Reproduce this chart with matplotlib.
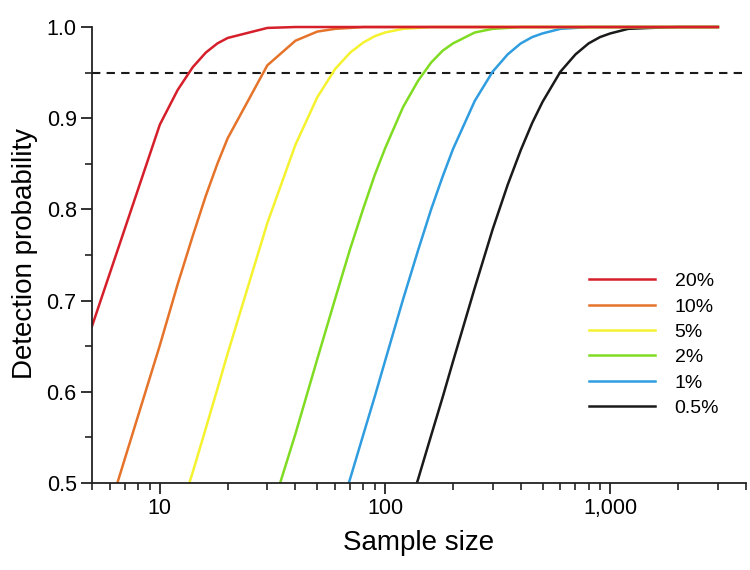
import matplotlib

matplotlib.use("Agg")
import matplotlib.pyplot as plt
from matplotlib.ticker import FixedLocator, FuncFormatter, LogLocator, MultipleLocator, NullFormatter

plt.rcParams["font.family"] = ["Liberation Sans", "DejaVu Sans"]

sample_size = [5, 10, 12, 14, 16, 18, 20, 30, 40, 50, 60, 70, 80, 90, 100,
               120, 140, 160, 180, 200, 250, 300, 350, 400, 450, 500, 600,
               700, 800, 900, 1000, 1200, 1500, 2000, 3000]

prob_20 = [0.672, 0.893, 0.931, 0.956, 0.972, 0.982, 0.988, 0.999, 1.0, 1.0,
           1.0, 1.0, 1.0, 1.0, 1.0, 1.0, 1.0, 1.0, 1.0, 1.0, 1.0, 1.0, 1.0,
           1.0, 1.0, 1.0, 1.0, 1.0, 1.0, 1.0, 1.0, 1.0, 1.0, 1.0, 1.0]
prob_10 = [0.410, 0.651, 0.718, 0.771, 0.815, 0.850, 0.878, 0.958, 0.985, 0.995,
           0.998, 0.999, 1.0, 1.0, 1.0, 1.0, 1.0, 1.0, 1.0, 1.0, 1.0, 1.0, 1.0,
           1.0, 1.0, 1.0, 1.0, 1.0, 1.0, 1.0, 1.0, 1.0, 1.0, 1.0, 1.0]
prob_5 = [0.226, 0.401, 0.460, 0.512, 0.560, 0.603, 0.642, 0.785, 0.871, 0.923,
          0.954, 0.972, 0.983, 0.990, 0.994, 0.998, 0.999, 1.0, 1.0, 1.0, 1.0,
          1.0, 1.0, 1.0, 1.0, 1.0, 1.0, 1.0, 1.0, 1.0, 1.0, 1.0, 1.0, 1.0, 1.0]
prob_2 = [0.096, 0.183, 0.215, 0.246, 0.276, 0.305, 0.332, 0.455, 0.554, 0.636,
          0.702, 0.757, 0.801, 0.838, 0.867, 0.912, 0.941, 0.961, 0.974, 0.982,
          0.994, 0.998, 0.999, 1.0, 1.0, 1.0, 1.0, 1.0, 1.0, 1.0, 1.0, 1.0,
          1.0, 1.0, 1.0]
prob_1 = [0.049, 0.096, 0.114, 0.131, 0.149, 0.165, 0.182, 0.260, 0.331, 0.395,
          0.453, 0.505, 0.553, 0.595, 0.634, 0.701, 0.755, 0.800, 0.836, 0.866,
          0.919, 0.951, 0.970, 0.982, 0.989, 0.993, 0.998, 0.999, 1.0, 1.0,
          1.0, 1.0, 1.0, 1.0, 1.0]
prob_05 = [0.025, 0.049, 0.058, 0.068, 0.077, 0.086, 0.095, 0.140, 0.182, 0.222,
           0.260, 0.296, 0.330, 0.363, 0.394, 0.452, 0.504, 0.552, 0.594, 0.633,
           0.714, 0.778, 0.827, 0.865, 0.895, 0.918, 0.951, 0.970, 0.982, 0.989,
           0.993, 0.998, 0.999, 1.0, 1.0]

labels = ["20%", "10%", "5%", "2%", "1%", "0.5%"]
colors = ["#d51f2a", "#e5732a", "#f5f230", "#80dc22", "#2f9de0", "#1a1a1a"]
series = [prob_20, prob_10, prob_5, prob_2, prob_1, prob_05]
threshold = 0.95

fig = plt.figure(figsize=(7.5, 5.7), dpi=100)
# 0.5 sits at y=483 px, 1.0 at y=27 px; a little headroom so lines at 1.0 are not cut
ax = fig.add_axes([0.1227, 0.1526, 0.872, 0.8048])

ax.axhline(threshold, color="#1a1a1a", lw=1.5, ls=(0, (4, 3)), zorder=1)
# draw in reverse so red ends on top along 1.0
for values, color, label in list(zip(series, colors, labels))[::-1]:
    ax.plot(sample_size, values, color=color, lw=1.8, label=label, zorder=2)

ax.set_xscale("log")
ax.set_xlim(5, 4000)
ax.set_ylim(0.5, 1.003)

ax.xaxis.set_major_locator(FixedLocator([10, 100, 1000]))
ax.xaxis.set_major_formatter(FuncFormatter(lambda v, _: f"{int(v):,}"))
ax.xaxis.set_minor_locator(LogLocator(base=10, subs=range(2, 10), numticks=20))
ax.xaxis.set_minor_formatter(NullFormatter())
ax.set_yticks([0.5, 0.6, 0.7, 0.8, 0.9, 1.0])
ax.yaxis.set_major_formatter(FuncFormatter(lambda v, _: f"{v:.1f}"))
ax.yaxis.set_minor_locator(FixedLocator([0.55, 0.65, 0.75, 0.85, 0.95]))

for side in ("top", "right"):
    ax.spines[side].set_visible(False)
for side in ("left", "bottom"):
    ax.spines[side].set_linewidth(1.3)
    ax.spines[side].set_color("#222222")
ax.spines["left"].set_bounds(0.5, 1.0)

ax.tick_params(which="major", direction="out", length=8, width=1.3, labelsize=15.5,
               color="#222222", pad=3)
ax.tick_params(which="minor", direction="out", length=5, width=1.2, color="#222222")

ax.set_xlabel("Sample size", fontsize=20, labelpad=8)
ax.set_ylabel("Detection probability", fontsize=20, labelpad=6)

handles, leg_labels = ax.get_legend_handles_labels()
ax.legend(handles[::-1], leg_labels[::-1], loc="upper left",
          bbox_to_anchor=(0.762, 0.5526), bbox_transform=fig.transFigure,
          frameon=False, fontsize=14, handlelength=3.4, handletextpad=1.0,
          labelspacing=0.4)

fig.savefig("out.png", dpi=100)
